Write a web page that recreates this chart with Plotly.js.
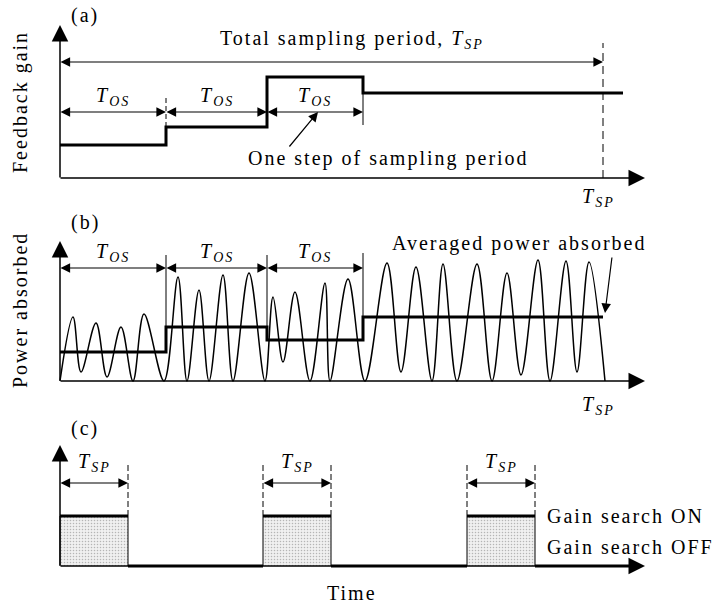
<!DOCTYPE html>
<html><head><meta charset="utf-8">
<script src="https://cdn.plot.ly/plotly-3.0.1.min.js"></script>
<style>html,body{margin:0;padding:0;background:#fff} svg text{letter-spacing:2px}</style>
</head><body><div id="chart" style="width:713px;height:606px"></div>
<script>
// ---------------- data (horizontal unit = time) ----------------
// (a) feedback gain, stepped every T_OS
const stepEdges = [0, 106, 207, 303];
const gainLevels = [33, 51, 101, 85];
const gainEnd = 563;
const tSP = 543;
const axisEnd = 585;

// (b) power absorbed: extrema of the oscillation, and averaged level per step
const powerT = [0, 13, 21, 36, 47, 61, 73, 84, 104,
                118, 127, 139, 149, 163, 173, 189, 205,
                213, 223, 235, 250, 265, 270, 288, 305,
                327, 341, 356, 372, 383, 397, 417, 432, 447, 461, 478, 490, 506, 517, 529, 545];
const powerY = [0, 64, 9, 58, 4, 54, 0, 67, 0,
                104, 0, 91, 0, 106, 0, 108, 0,
                84, 19, 89, 0, 98, 0, 102, 0,
                118, 9, 114, 0, 117, 0, 117, 0, 108, 6, 121, 0, 120, 9, 119, 0];
const avgPower = [29, 54, 41, 64];
const avgEnd = 543;

// (c) gain search on/off
const pulseStart = [0, 203, 407];
const pulseWidth = 68;
const onLevel = 50;

// ---------------- drawing ----------------
const FONT = '"Liberation Serif", serif';
const FS = 20;
const TOS = '<i>T</i><sub><i>OS</i></sub>';
const TSPs = '<i>T</i><sub><i>SP</i></sub>';
const traces = [];
const ann = [];

function seg(xs, ys, yaxis, width, dash) {
  traces.push({x: xs, y: ys, yaxis: yaxis, mode: 'lines', hoverinfo: 'skip',
    line: {color: '#000', width: width, dash: dash || 'solid'}, showlegend: false});
}
function arrow(x, y, ax, ay, yref, extra) {
  ann.push(Object.assign({xref: 'x', yref: yref, axref: 'x', ayref: yref, x: x, y: y, ax: ax, ay: ay,
    text: '', font: {size: 1}, borderpad: 0, showarrow: true, arrowhead: 2, arrowsize: 1.6,
    arrowwidth: 1.2, arrowcolor: '#000'}, extra || {}));
}
function dbl(x0, x1, y, yref) {
  arrow(x1, y, x0, y, yref, {arrowside: 'end+start', startarrowhead: 2, startarrowsize: 1.6});
}
function label(x, y, yref, text, extra) {
  ann.push(Object.assign({xref: 'x', yref: yref, x: x, y: y, text: text, showarrow: false,
    xanchor: 'center', yanchor: 'middle', font: {family: FONT, size: FS, color: '#000'}}, extra || {}));
}
function axes(yref, ytip) {
  arrow(axisEnd, 0, 0, 0, yref, {arrowwidth: 1.5, arrowsize: 2.2});
  arrow(0, ytip, 0, 0, yref, {arrowwidth: 1.5, arrowsize: 2.2});
}

// ----- panel (a) -----
axes('y', 153);
seg(stepEdges.concat([gainEnd]), gainLevels.concat([gainLevels[gainLevels.length - 1]]), 'y', 3);
traces[traces.length - 1].line.shape = 'hv';
seg([stepEdges[1], stepEdges[1]], [gainLevels[1], 83], 'y', 1, '5px,3px');
seg([stepEdges[3], stepEdges[3]], [gainLevels[3], 53], 'y', 1);
seg([tSP, tSP], [0, 135], 'y', 1, '8px,5px');
for (let i = 0; i < 3; i++) {
  dbl(stepEdges[i], stepEdges[i + 1], 66, 'y');
  label((stepEdges[i] + stepEdges[i + 1]) / 2, 82, 'y', TOS);
}
dbl(0, tSP, 116, 'y');
label(292, 139, 'y', 'Total sampling period, ' + TSPs);
arrow(258, 66, 229, 31, 'y');
label(328, 20, 'y', 'One step of sampling period');
label(538, -19, 'y', TSPs);
label(25, 163, 'y', '(a)');
label(-40, 76, 'y', 'Feedback gain', {textangle: -90});

// ----- panel (b) -----
axes('y2', 140);
traces.push({x: powerT, y: powerY, yaxis: 'y2', mode: 'lines', hoverinfo: 'skip', showlegend: false,
  line: {color: '#000', width: 1.5, shape: 'spline', smoothing: 1}});
seg(stepEdges.concat([avgEnd]), avgPower.concat([avgPower[avgPower.length - 1]]), 'y2', 3);
traces[traces.length - 1].line.shape = 'hv';
seg([stepEdges[1], stepEdges[1]], [avgPower[1], 126], 'y2', 1);
seg([stepEdges[2], stepEdges[2]], [avgPower[1], 126], 'y2', 1);
seg([stepEdges[3], stepEdges[3]], [avgPower[3], 128], 'y2', 1);
for (let i = 0; i < 3; i++) {
  dbl(stepEdges[i], stepEdges[i + 1], 113, 'y2');
  label((stepEdges[i] + stepEdges[i + 1]) / 2, 129, 'y2', TOS);
}
label(459, 138, 'y2', 'Averaged power absorbed');
arrow(avgEnd + 2, avgPower[3] + 4, 552, 124, 'y2');
label(538, -24, 'y2', TSPs);
label(25, 159, 'y2', '(b)');
label(-40, 71, 'y2', 'Power absorbed', {textangle: -90});

// ----- panel (c) -----
axes('y3', 121);
const offX = [], offY = [];
pulseStart.forEach((s, i) => {
  const e = s + pulseWidth;
  traces.push({x: [s, s, e, e], y: [0, onLevel, onLevel, 0], yaxis: 'y3', mode: 'lines',
    fill: 'toself', fillcolor: '#ececec', hoverinfo: 'skip', showlegend: false,
    fillpattern: {shape: '.', bgcolor: '#f0f0f0', fgcolor: '#b5b5b5', size: 3, solidity: 0.2},
    line: {color: '#000', width: 1}});
  seg([s, e], [onLevel, onLevel], 'y3', 3);
  const next = i + 1 < pulseStart.length ? pulseStart[i + 1] : axisEnd - 14;
  offX.push(e, next, null); offY.push(0, 0, null);
  if (s > 0) seg([s, s], [onLevel, 104], 'y3', 1, '6px,3px');
  seg([e, e], [onLevel, 104], 'y3', 1, '6px,3px');
  dbl(s, e, 83, 'y3');
  label(s + pulseWidth / 2, 104, 'y3', TSPs);
});
seg(offX, offY, 'y3', 3);
label(485, onLevel, 'y3', 'Gain search ON', {xanchor: 'left'});
label(485, 19, 'y3', 'Gain search OFF', {xanchor: 'left'});
label(292, -27, 'y3', 'Time');
label(25, 138, 'y3', '(c)');

const hidden = {visible: false, fixedrange: true};
Plotly.newPlot('chart', traces, {
  width: 713, height: 606, margin: {l: 0, r: 0, t: 0, b: 0},
  paper_bgcolor: '#fff', plot_bgcolor: '#fff', showlegend: false,
  xaxis: Object.assign({range: [-60, 653], domain: [0, 1]}, hidden),
  yaxis: Object.assign({range: [-428, 178], domain: [0, 1]}, hidden),
  yaxis2: Object.assign({range: [-225, 381], overlaying: 'y'}, hidden),
  yaxis3: Object.assign({range: [-40, 566], overlaying: 'y'}, hidden),
  annotations: ann
}, {displayModeBar: false, staticPlot: true});
</script></body></html>
